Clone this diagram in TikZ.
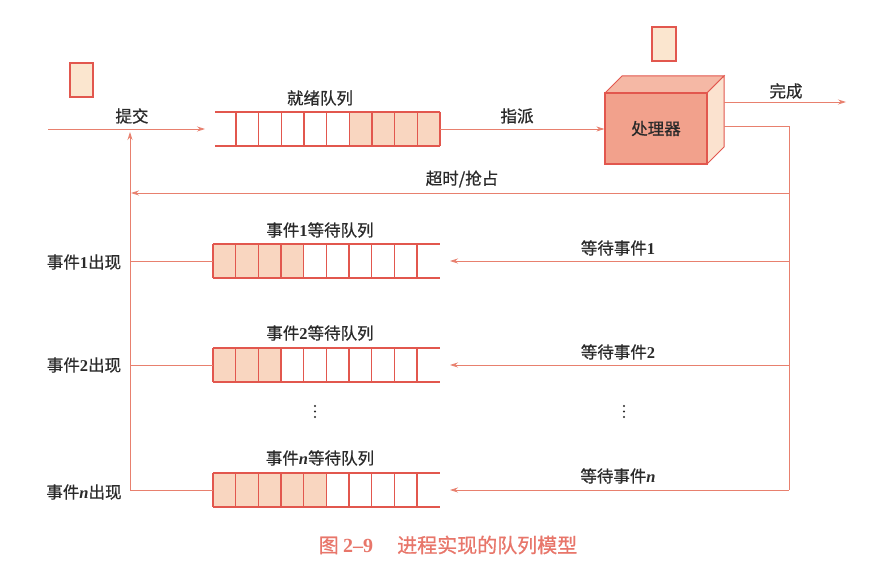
\documentclass[tikz,border=0pt]{standalone}
\usepackage{fontspec}
\setmainfont{Liberation Serif}
\newfontfamily\cjk{Noto Sans CJK SC}[FakeBold=0.8]
\usetikzlibrary{arrows.meta}
\definecolor{lineC}{HTML}{E8806E}
\definecolor{qC}{HTML}{E2574E}
\definecolor{shadeC}{HTML}{F9D6C0}
\definecolor{procF}{HTML}{F2A18C}
\definecolor{procT}{HTML}{F5B8A5}
\definecolor{procR}{HTML}{FBE2CF}
\definecolor{smallC}{HTML}{FBE6CF}
\definecolor{txtC}{HTML}{2A2A2A}
\definecolor{capC}{HTML}{E8766A}
\newcommand{\rmn}[1]{{\rmfamily\bfseries #1}}
\tikzset{
  conn/.style={draw=lineC, line width=0.8pt},
  arr/.style={conn, -{Stealth[length=8pt,width=5pt]}},
  lbl/.style={font=\cjk\fontsize{16.5}{20}\selectfont, text=txtC, inner sep=1pt},
  qline/.style={draw=qC, line width=1.1pt},
  smallbox/.style={draw=qC, fill=smallC, line width=1.1pt},
  vdot/.style={circle, fill=txtC, inner sep=0pt, minimum size=2.2pt},
}
\begin{document}
\begin{tikzpicture}[x=1pt,y=-1pt]
\useasboundingbox (0,0) rectangle (896,580);
\fill[white] (0,0) rectangle (896,580);

% small job boxes
\path[smallbox] (70,63) rectangle (93,97);
\path[smallbox] (652,27) rectangle (676,61);

% ready queue
\fill[shadeC] (350,112) rectangle (440,146);
\foreach \x in {236,258.7,281.3,304,326.7,349.3,372,394.7,417.3,440}
  \draw[qline] (\x,112) -- (\x,146);
\draw[qline] (215,112) -- (440,112);
\draw[qline] (215,146) -- (440,146);
\coordinate (rqW) at (215,129);
\coordinate (rqE) at (440,129);
\node[lbl] (rqL) at (320,98) {就绪队列};

% event queues
\foreach \y/\n/\nm in {261/4/a, 365/3/b, 490/5/c}{
  \fill[shadeC] (213,\y-17) rectangle (213+\n*22.67,\y+17);
  \foreach \k in {0,...,9}
    \draw[qline] (213+\k*22.67,\y-17) -- (213+\k*22.67,\y+17);
  \draw[qline] (213,\y-17) -- (440,\y-17);
  \draw[qline] (213,\y+17) -- (440,\y+17);
}
\coordinate (q1W) at (213,261); \coordinate (q1E) at (440,261);
\coordinate (q2W) at (213,365); \coordinate (q2E) at (440,365);
\coordinate (qnW) at (213,490); \coordinate (qnE) at (440,490);
\node[lbl] (q1L) at (320,230) {事件\rmn{1}等待队列};
\node[lbl] (q2L) at (320,333) {事件\rmn{2}等待队列};
\node[lbl] (qnL) at (320,458) {事件\rmn{\textit{n}}等待队列};

% processor (3D box)
\fill[procT, draw=qC, line width=1pt] (605,93) -- (622,76) -- (724,76) -- (707,93) -- cycle;
\fill[procR, draw=qC, line width=1pt] (707,93) -- (724,76) -- (724,147) -- (707,164) -- cycle;
\node[draw=qC, fill=procF, line width=1.2pt, minimum width=102pt, minimum height=71pt,
      inner sep=0pt, font=\cjk\fontsize{16.5}{20}\selectfont, text=txtC] (proc) at (656,128.5) {处理器};

% submit
\coordinate (subS) at (48,129);
\draw[arr, shorten >=10pt] (subS) -- (rqW);
\node[lbl] (subL) at (132,116) {提交};

% dispatch
\draw[arr] (rqE) -- (proc.west |- rqE);
\node[lbl] (dispL) at (517,116) {指派};

% complete
\coordinate (doneS) at (724,102);
\coordinate (doneE) at (846,102);
\draw[arr] (doneS) -- (doneE);
\node[lbl] (doneL) at (786,91) {完成};

% right loop
\coordinate (rOut) at (724,126);
\coordinate (rTop) at (789,126);
\coordinate (rBot) at (789,490);
\draw[conn] (rOut) -- (rTop) -- (rBot);

% left trunk
\coordinate (lBot) at (130,490);
\coordinate (lTop) at (130,132);
\draw[arr] (lBot) -- (lTop);

% timeout
\coordinate (toR) at (789,193);
\coordinate (toL) at (131,193);
\draw[arr] (toR) -- (toL);
\node[lbl] (toLb) at (462,179) {超时/抢占};

% wait for events
\coordinate (w1) at (789,261);
\coordinate (w2) at (789,365);
\coordinate (wn) at (789,490);
\draw[arr, shorten >=10pt] (w1) -- (q1E);
\draw[arr, shorten >=10pt] (w2) -- (q2E);
\draw[arr, shorten >=10pt] (wn) -- (qnE);
\node[lbl] (w1L) at (618,248) {等待事件\rmn{1}};
\node[lbl] (w2L) at (618,352) {等待事件\rmn{2}};
\node[lbl] (wnL) at (618,476) {等待事件\rmn{\textit{n}}};

% events occur
\coordinate (e1) at (130,261);
\coordinate (e2) at (130,365);
\coordinate (en) at (130,490);
\draw[conn] (q1W) -- (e1);
\draw[conn] (q2W) -- (e2);
\draw[conn] (qnW) -- (en);
\node[lbl] (e1L) at (84,262) {事件\rmn{1}出现};
\node[lbl] (e2L) at (84,365) {事件\rmn{2}出现};
\node[lbl] (enL) at (84,492) {事件\rmn{\textit{n}}出现};

% dots
\foreach \yy [count=\i] in {406,411.5,417}{
  \node[vdot] (dl\i) at (315,\yy) {};
  \node[vdot] (dr\i) at (624,\yy) {};
}

% caption
\node[text=capC, font=\cjk\fontsize{20}{24}\selectfont, inner sep=0pt] (cap) at (448,545)
  {图 \textbf{\rmfamily 2--9}\hspace{1.2em}进程实现的队列模型};
\end{tikzpicture}
\end{document}
